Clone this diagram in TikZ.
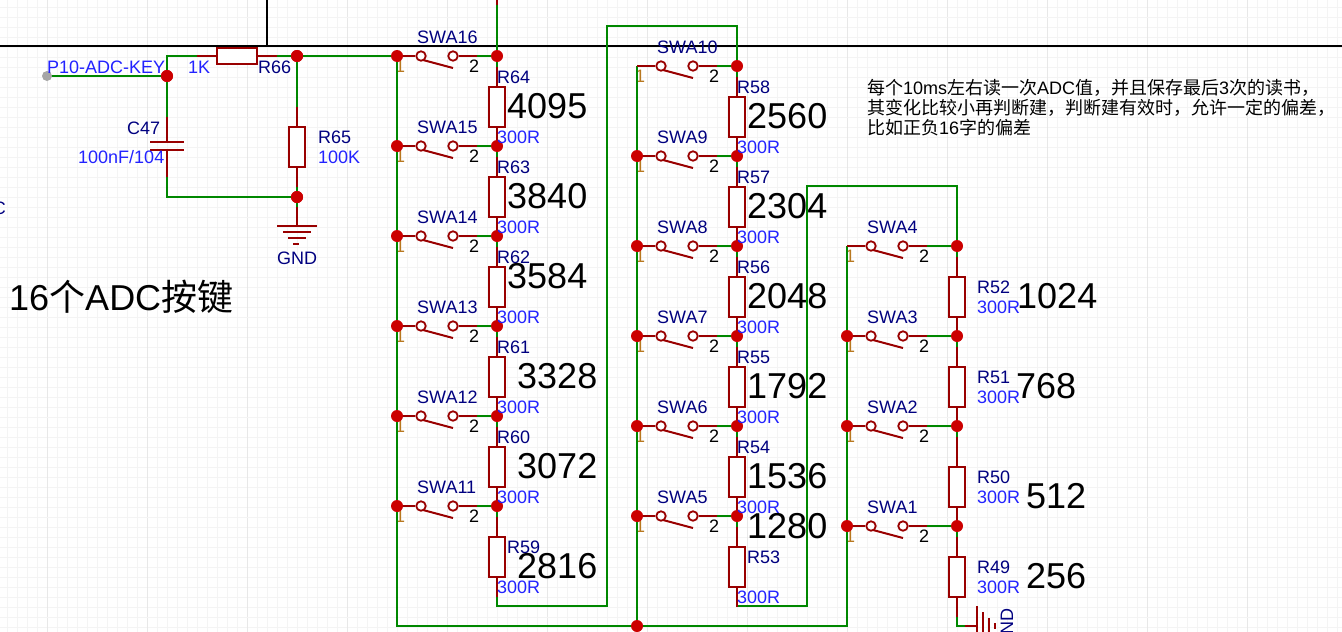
\documentclass[tikz,border=0pt]{standalone}
\usepackage{fontspec}
\setmainfont{Liberation Sans}
\newfontfamily\cjk{Noto Sans CJK SC}
\definecolor{wire}{HTML}{008800}
\definecolor{part}{HTML}{990000}
\definecolor{junc}{HTML}{CC0000}
\definecolor{desig}{HTML}{000080}
\definecolor{valc}{HTML}{2222FF}
\definecolor{gminor}{HTML}{F4F4F4}
\definecolor{gmajor}{HTML}{E8E8E8}
\definecolor{pinone}{HTML}{B87820}
\tikzset{
 x=1pt,y=-1pt,
 wireline/.style={draw=wire,line width=2pt},
 partline/.style={draw=part,line width=2pt},
 resv/.style={draw=part,line width=2pt,fill=white,minimum width=16pt,minimum height=40pt,inner sep=0,outer sep=0},
 resh/.style={draw=part,line width=2pt,fill=white,minimum width=40pt,minimum height=16pt,inner sep=0,outer sep=0},
 dotj/.style={circle,fill=junc,minimum size=12pt,inner sep=0},
 pinc/.style={circle,draw=part,line width=1.8pt,fill=white,minimum size=9.5pt,inner sep=0},
 txt/.style={inner sep=0,anchor=west,font=\fontsize{18}{18}\selectfont,yshift=-1pt},
 dname/.style={txt,text=desig},
 dval/.style={txt,text=valc},
 big/.style={inner sep=0,anchor=west,text=black,font=\fontsize{36}{36}\selectfont,xshift=-1pt},
}
% #1 id, #2 left x, #3 right x, #4 y, #5 label
\newcommand{\swa}[5]{
 \coordinate (L#1) at (#2,#4);
 \coordinate (R#1) at (#3,#4);
 \coordinate (bl#1) at (#2+26,#4+4);
 \coordinate (br#1) at (#2+56,#4+12);
 \draw[partline] (bl#1) -- (br#1);
 \node[pinc] (pa#1) at (#2+24,#4) {};
 \node[pinc] (pb#1) at (#2+56,#4) {};
 \coordinate (g#1) at (#2+80,#4);
 \draw[partline] (L#1) -- (pa#1);
 \draw[partline] (pb#1) -- (g#1);
 \draw[wireline] (g#1) -- (R#1);
 \node[dname] (lab#1) at (#2+20,#4-20) {#5};
 \node[txt] (n2#1) at (#2+72,#4+9) {2};
}
% #1 id, #2 x, #3 rect top, #4 top lead, #5 bottom lead
\newcommand{\resi}[5]{
 \node[resv] (#1) at (#2,#3+20) {};
 \coordinate (#1t) at (#2,#4);
 \coordinate (#1b) at (#2,#5);
 \draw[partline] (#1t) -- (#1);
 \draw[partline] (#1) -- (#1b);
}
\begin{document}
\begin{tikzpicture}
\clip (0,0) rectangle (1342,632);
\fill[white] (0,0) rectangle (1342,632);
\foreach \i in {0,...,134} \draw[gminor,line width=.8pt] (7+10*\i,0) -- (7+10*\i,632);
\foreach \i in {0,...,63} \draw[gminor,line width=.8pt] (0,7+10*\i) -- (1342,7+10*\i);
\foreach \i in {0,...,13} \draw[gmajor,line width=.8pt] (47+100*\i,0) -- (47+100*\i,632);
\foreach \i in {0,...,6} \draw[gminor,line width=1pt] (0,17+100*\i) -- (1342,17+100*\i);
% black sheet border
\coordinate (bl0) at (0,46); \coordinate (bl1) at (1342,46);
\coordinate (bl2) at (267,0); \coordinate (bl3) at (267,46);
\draw[black,line width=2pt] (bl0) -- (bl1);
\draw[black,line width=2pt] (bl2) -- (bl3);

% pin-1 numbers, under the rails
\foreach \px/\py [count=\k] in {397/56,397/146,397/236,397/326,397/416,397/506,
 637/66,637/156,637/246,637/336,637/426,637/516,847/246,847/336,847/426,847/526}
 \node[txt,text=pinone] (none\k) at (\px-2,\py+9) {1};

% long wires
\coordinate (top0) at (497,0); \coordinate (top1) at (497,5);
\draw[partline] (top0) -- (top1);
\draw[wireline] (top1) -- (497,56);
\draw[wireline] (277,56) -- (397,56);
\draw[wireline] (397,56) -- (397,626) -- (847,626) -- (847,246);
\draw[wireline] (637,66) -- (637,626);
\draw[wireline] (497,597) -- (497,606) -- (607,606) -- (607,26) -- (737,26) -- (737,66);
\draw[wireline] (737,606) -- (807,606) -- (807,186) -- (957,186) -- (957,246);
\draw[wireline] (957,617) -- (957,626) -- (965,626);

% resistor chain stubs
\foreach \y in {146,236,326,416,506} \draw[wireline] (497,\y) -- (497,\y+11);
\draw[wireline] (497,56) -- (497,67);
\foreach \y in {66,156,246,336,426,516} \draw[wireline] (737,\y) -- (737,\y+11);
\foreach \y in {246,336,426,526} \draw[wireline] (957,\y) -- (957,\y+11);

% switches column 1
\swa{16}{397}{497}{56}{SWA16}
\swa{15}{397}{497}{146}{SWA15}
\swa{14}{397}{497}{236}{SWA14}
\swa{13}{397}{497}{326}{SWA13}
\swa{12}{397}{497}{416}{SWA12}
\swa{11}{397}{497}{506}{SWA11}
% column 2
\swa{10}{637}{737}{66}{SWA10}
\swa{9}{637}{737}{156}{SWA9}
\swa{8}{637}{737}{246}{SWA8}
\swa{7}{637}{737}{336}{SWA7}
\swa{6}{637}{737}{426}{SWA6}
\swa{5}{637}{737}{516}{SWA5}
% column 3
\swa{4}{847}{957}{246}{SWA4}
\swa{3}{847}{957}{336}{SWA3}
\swa{2}{847}{957}{426}{SWA2}
\swa{1}{847}{957}{526}{SWA1}

% resistors
\resi{r64}{497}{87}{67}{146}
\resi{r63}{497}{177}{157}{236}
\resi{r62}{497}{267}{247}{326}
\resi{r61}{497}{357}{337}{416}
\resi{r60}{497}{447}{427}{506}
\resi{r59}{497}{537}{517}{597}
\resi{r58}{737}{97}{77}{156}
\resi{r57}{737}{187}{167}{246}
\resi{r56}{737}{277}{257}{336}
\resi{r55}{737}{367}{347}{426}
\resi{r54}{737}{457}{437}{516}
\resi{r53}{737}{547}{527}{607}
\resi{r52}{957}{277}{257}{336}
\resi{r51}{957}{367}{347}{426}
\resi{r50}{957}{467}{437}{526}
\resi{r49}{957}{557}{537}{617}

% left network
\node[resh] (r66) at (237,56) {};
\coordinate (r66a) at (197,56); \coordinate (r66b) at (277,56);
\draw[partline] (r66a) -- (r66);
\draw[partline] (r66) -- (r66b);
\node[resv] (r65) at (297,147) {};
\coordinate (r65a) at (297,107); \coordinate (r65b) at (297,187);
\draw[partline] (r65a) -- (r65);
\draw[partline] (r65) -- (r65b);
\coordinate (netp) at (47,76);
\node[dotj] (j167) at (167,76) {};
\node[dotj] (j297a) at (297,56) {};
\node[dotj] (j297b) at (297,197) {};
\draw[wireline] (netp) -- (j167);
\draw[wireline] (167,117) -- (167,56) -- (r66a);
\draw[wireline] (j297a) -- (r65a);
\draw[wireline] (r65b) -- (j297b);
\draw[wireline] (167,177) -- (167,197) -- (j297b);
\draw[wireline] (j297b) -- (297,207);
\node[circle,fill=gray!70,minimum size=10pt,inner sep=0] (gp) at (47,76) {};
\node[dotj] (j167b) at (167,76) {};
\node[dotj] (j297c) at (297,56) {};
\node[dotj] (j297d) at (297,197) {};
% capacitor
\draw[partline] (167,117) -- (167,142);
\draw[partline] (167,150) -- (167,177);
\draw[partline] (150,142) -- (184,142);
\draw[partline] (150,150) -- (184,150);
% gnd
\draw[partline] (297,207) -- (297,226);
\draw[partline] (277,226) -- (317,226);
\draw[partline] (283,232) -- (311,232);
\draw[partline] (288,238) -- (306,238);
\draw[partline] (293,244) -- (299,244);
% right gnd
\draw[partline] (965,626) -- (977,626);
\draw[partline] (977,606) -- (977,646);
\draw[partline] (983,612) -- (983,640);
\draw[partline] (989,618) -- (989,634);
\draw[partline] (995,623) -- (995,629);

% junctions
\foreach \px/\py in {397/56,497/56,397/146,497/146,397/236,497/236,397/326,497/326,397/416,497/416,397/506,497/506,
 737/66,637/156,737/156,637/246,737/246,637/336,737/336,637/426,737/426,637/516,737/516,637/626,
 957/246,847/336,957/336,847/426,957/426,847/526,957/526}
 \node[dotj] (j\px-\py) at (\px,\py) {};

% texts left
\node[dval] (tnet) at (47,66) {P10-ADC-KEY};
\node[dval] (t1k) at (188,66) {1K};
\node[dname] (tr66) at (258,66) {R66};
\node[dname] (tc47) at (127,127) {C47};
\node[dval] (tc) at (78,156) {100nF/104};
\node[dname] (tr65) at (318,136) {R65};
\node[dval] (t100k) at (318,156) {100K};
\node[dname,anchor=center] (tgnd) at (297,257) {GND};
\node[dname,anchor=east] (tcc) at (6,207) {C};
\node[inner sep=0,anchor=west,font=\fontsize{36}{36}\selectfont] (ttitle) at (9,297) {16{\cjk 个}ADC{\cjk 按键}};
\node[dname,anchor=center,rotate=90] (tgnd2) at (1007,627) {GND};
% note
\node[txt] (note1) at (867,87) {{\cjk 每个}10ms{\cjk 左右读一次}ADC{\cjk 值，并且保存最后}3{\cjk 次的读书，}};
\node[txt] (note2) at (867,107) {\cjk 其变化比较小再判断建，判断建有效时，允许一定的偏差，};
\node[txt] (note3) at (867,127) {{\cjk 比如正负}16{\cjk 字的偏差}};

% resistor labels
\foreach \n/\xx/\yy in {R64/497/76,R63/497/166,R62/497/256,R61/497/346,R60/497/436,R59/507/546,
 R58/737/86,R57/737/176,R56/737/266,R55/737/356,R54/737/446,R53/747/556,
 R52/977/286,R51/977/376,R50/977/476,R49/977/566}
 \node[dname] (t\n) at (\xx,\yy) {\n};
\foreach \xx/\yy [count=\k] in {497/136,497/226,497/316,497/406,497/496,497/586,
 737/146,737/236,737/326,737/416,737/506,737/596,977/306,977/396,977/496,977/586}
 \node[dval] (v\k) at (\xx,\yy) {300R};
\foreach \t/\xx/\yy in {4095/508/106,3840/508/196,3584/508/276,3328/518/376,3072/518/466,2816/518/566,
 2560/748/116,2304/748/206,2048/748/296,1792/748/386,1536/748/476,1280/748/526,
 1024/1018/296,768/1017/386,512/1027/496,256/1027/576}
 \node[big] (b\t) at (\xx,\yy) {\t};
\end{tikzpicture}
\end{document}
